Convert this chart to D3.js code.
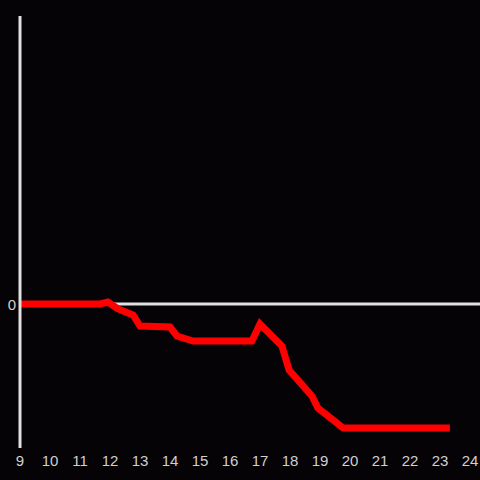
<!DOCTYPE html>
<html lang="en">
<head>
<meta charset="UTF-8">
<script src="https://d3js.org/d3.v7.min.js"></script>
<style>
  html, body { margin: 0; padding: 0; background: #050306; }
  svg { display: block; }
</style>
</head>
<body>
<svg width="480" height="480"></svg>
<script>
// hours of the day and the value at each point
var hours  = [9, 11.67, 11.93, 12.27, 12.77, 13.0, 14.0, 14.23, 14.77, 16.73, 17.0, 17.73, 17.97, 18.73, 18.93, 19.77, 23.33];
var values = [0, 0, 2, -5, -11, -22, -23, -32, -37, -37, -20, -42, -66, -92, -104, -124, -124];
var xTicks = d3.range(9, 25);
var yTicks = [0];

var svg = d3.select("svg");

var x = d3.scaleLinear().domain([9, 24]).range([20, 470]);
var y = d3.scaleLinear().domain([-144, 288]).range([448, 16]);

svg.append("rect").attr("width", 480).attr("height", 480).attr("fill", "#050306");

// zero line
svg.append("line")
    .attr("x1", 20).attr("x2", 480)
    .attr("y1", y(0)).attr("y2", y(0))
    .attr("stroke", "#e0e0e0").attr("stroke-width", 3);

// x tick labels
svg.selectAll(".xl")
    .data(xTicks)
    .enter().append("text")
    .attr("class", "xl")
    .attr("x", function(d) { return x(d); })
    .attr("y", 466)
    .attr("text-anchor", "middle")
    .attr("font-family", "Liberation Sans, Arial, sans-serif")
    .attr("font-size", 15)
    .attr("fill", "#d0d0d0")
    .text(function(d) { return d; });

// y tick labels
svg.selectAll(".yl")
    .data(yTicks)
    .enter().append("text")
    .attr("class", "yl")
    .attr("x", 16)
    .attr("y", function(d) { return y(d) + 6; })
    .attr("text-anchor", "end")
    .attr("font-family", "Liberation Sans, Arial, sans-serif")
    .attr("font-size", 15)
    .attr("fill", "#d0d0d0")
    .text(function(d) { return d; });

var line = d3.line()
    .x(function(d, i) { return x(hours[i]); })
    .y(function(d) { return y(d); });

svg.append("path")
    .datum(values)
    .attr("d", line)
    .attr("fill", "none")
    .attr("stroke", "#ff0000")
    .attr("stroke-width", 7)
    .attr("stroke-linejoin", "miter");

// y axis line, drawn over the series
svg.append("line")
    .attr("x1", 20).attr("x2", 20)
    .attr("y1", 16).attr("y2", 448)
    .attr("stroke", "#e0e0e0").attr("stroke-width", 3);
</script>
</body>
</html>
